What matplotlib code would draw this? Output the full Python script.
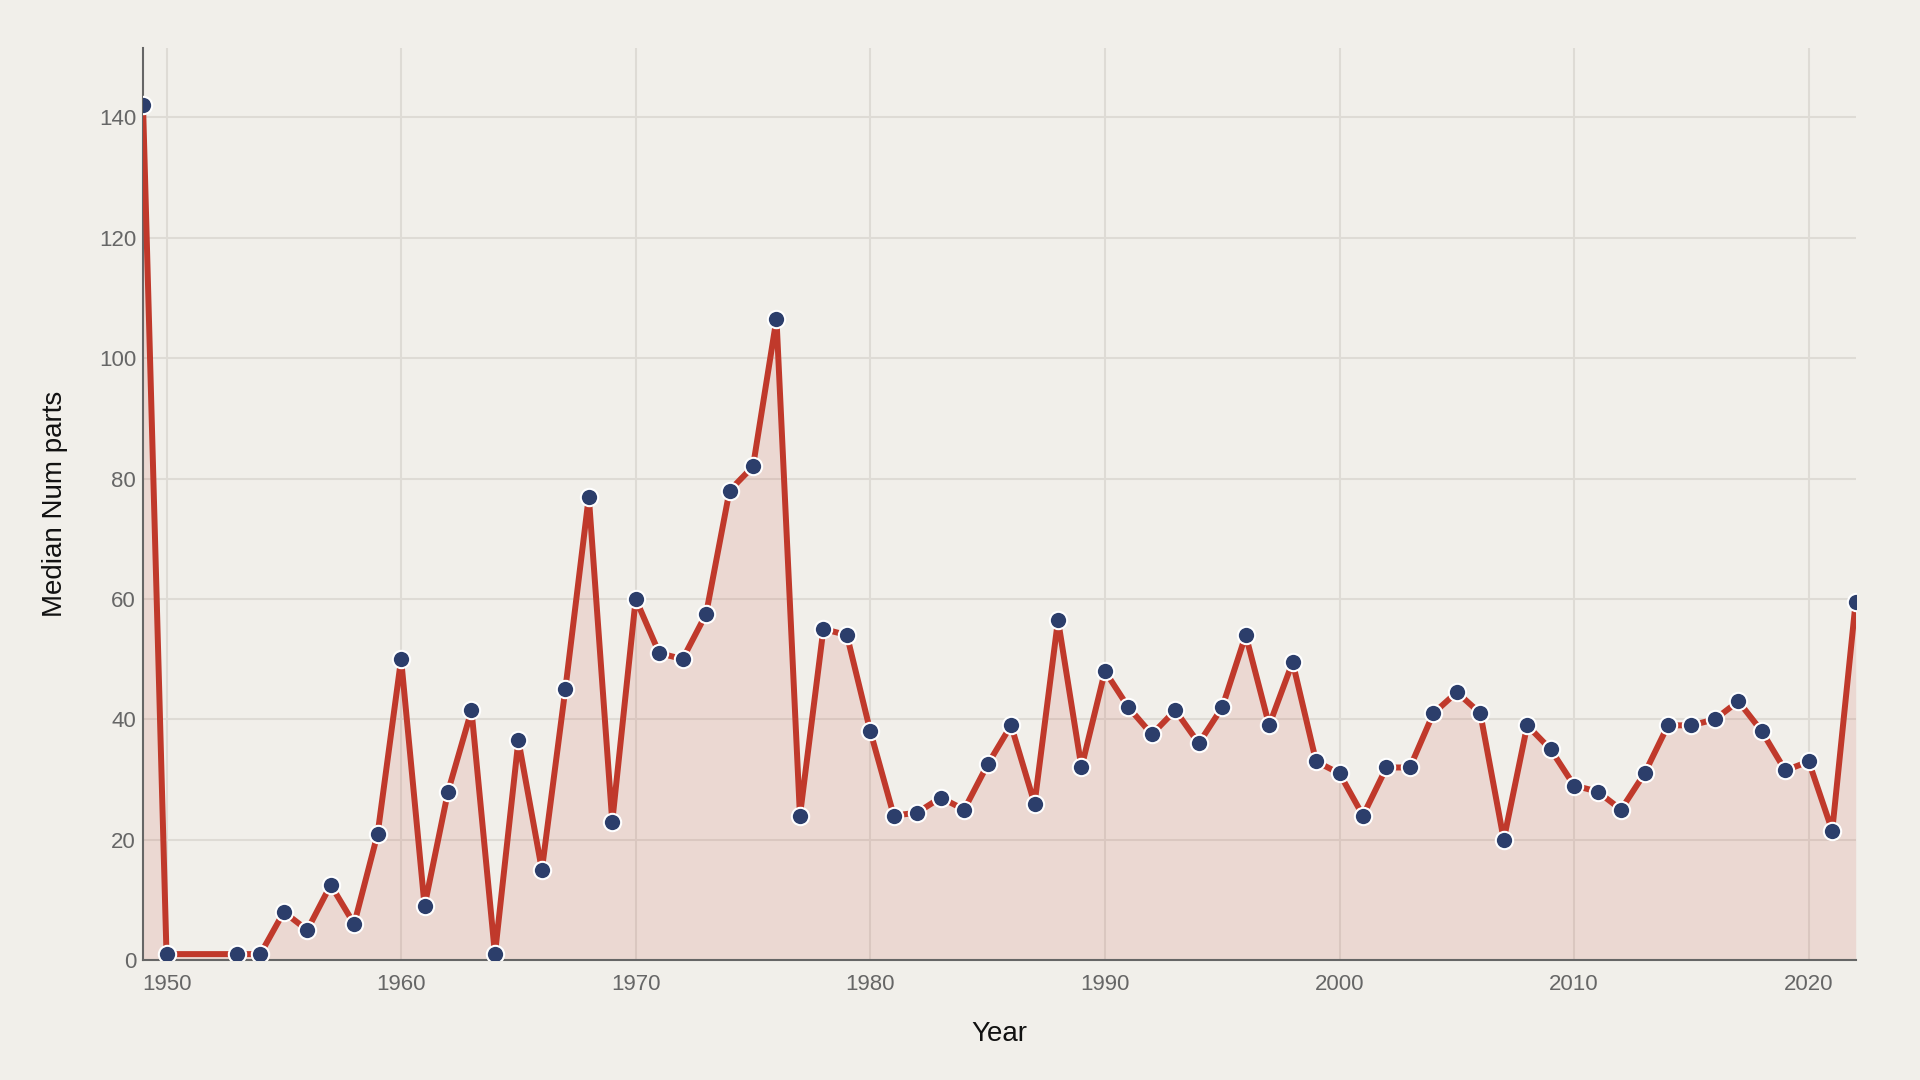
import matplotlib.pyplot as plt

plt.rcParams["font.family"] = ["Liberation Sans", "DejaVu Sans"]

years = [1949, 1950, 1953, 1954, 1955, 1956, 1957, 1958, 1959,
         1960, 1961, 1962, 1963, 1964, 1965, 1966, 1967, 1968, 1969,
         1970, 1971, 1972, 1973, 1974, 1975, 1976, 1977, 1978, 1979,
         1980, 1981, 1982, 1983, 1984, 1985, 1986, 1987, 1988, 1989,
         1990, 1991, 1992, 1993, 1994, 1995, 1996, 1997, 1998, 1999,
         2000, 2001, 2002, 2003, 2004, 2005, 2006, 2007, 2008, 2009,
         2010, 2011, 2012, 2013, 2014, 2015, 2016, 2017, 2018, 2019,
         2020, 2021, 2022]
median_parts = [142, 1, 1, 1, 8, 5, 12.5, 6, 21,
                50, 9, 28, 41.5, 1, 36.5, 15, 45, 77, 23,
                60, 51, 50, 57.5, 78, 82, 106.5, 24, 55, 54,
                38, 24, 24.5, 27, 25, 32.5, 39, 26, 56.5, 32,
                48, 42, 37.5, 41.5, 36, 42, 54, 39, 49.5, 33,
                31, 24, 32, 32, 41, 44.5, 41, 20, 39, 35,
                29, 28, 25, 31, 39, 39, 40, 43, 38, 31.5,
                33, 21.5, 59.5]

bg = "#f1efea"
line_color = "#c0392b"
marker_color = "#2c3e6b"

fig = plt.figure(figsize=(19.2, 10.8), dpi=100, facecolor=bg)
ax = fig.add_axes([0.0745, 0.111, 0.892, 0.8445], facecolor=bg)

ax.fill_between(years, median_parts, 0, color=line_color, alpha=0.12, linewidth=0, zorder=2)
ax.plot(years, median_parts, color=line_color, linewidth=4.3, zorder=3,
        marker="o", markersize=12.5, markerfacecolor=marker_color,
        markeredgecolor="white", markeredgewidth=1.5)

ax.set_xlim(min(years), max(years))
ax.set_ylim(0, 151.5)
ax.set_yticks(range(0, 141, 20))
ax.set_xticks(range(1950, 2021, 10))

ax.grid(True, color="#dedbd5", linewidth=1.5, zorder=1)
ax.set_axisbelow(True)
for side in ["top", "right"]:
    ax.spines[side].set_visible(False)
for side in ["left", "bottom"]:
    ax.spines[side].set_color("#666666")
    ax.spines[side].set_linewidth(1.5)

ax.tick_params(axis="both", length=0, labelsize=16, labelcolor="#666666")
ax.tick_params(axis="x", pad=10)
ax.tick_params(axis="y", pad=5)

ax.set_xlabel("Year", fontsize=20, color="#111111", labelpad=19)
ax.set_ylabel("Median Num parts", fontsize=20, color="#111111", labelpad=22)

fig.savefig("out.png", dpi=100, facecolor=bg)
